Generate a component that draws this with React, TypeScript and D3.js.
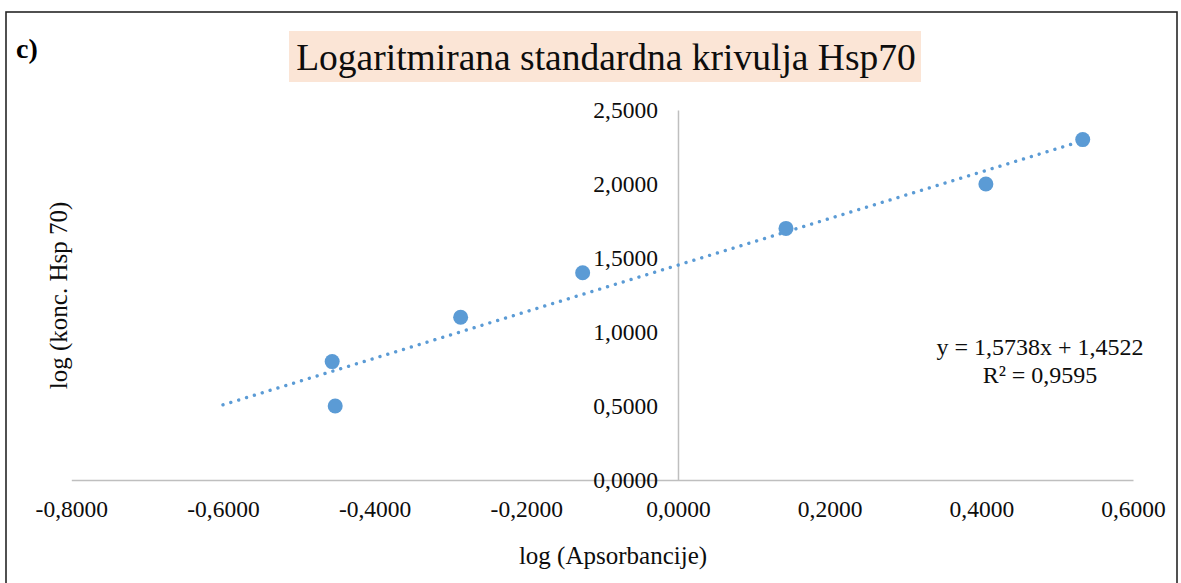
// log standard curve for Hsp70 - scatter with linear trendline

import { useEffect, useRef } from 'react';
import * as d3 from 'd3';

const xValues = [-0.4560, -0.4520, -0.2866, -0.1257, 0.1424, 0.4060, 0.5337];
const yValues = [0.8, 0.5, 1.1, 1.4, 1.7, 2.0, 2.3];
const xTicks = [-0.8, -0.6, -0.4, -0.2, 0, 0.2, 0.4, 0.6];
const yTicks = [0, 0.5, 1.0, 1.5, 2.0, 2.5];
const slope = 1.5738;
const intercept = 1.4522;
const trendFrom = -0.6;

const titleText = 'Logaritmirana standardna krivulja Hsp70';
const xLabel = 'log (Apsorbancije)';
const yLabel = 'log (konc. Hsp 70)';
const eqLines = ['y = 1,5738x + 1,4522', 'R² = 0,9595'];

const App = () => {
  const svgRef = useRef<SVGSVGElement | null>(null);

  useEffect(() => {
    if (!svgRef.current) return;
    const svg = d3.select(svgRef.current);
    svg.selectAll('*').remove();

    const width = 1181;
    const height = 583;
    const font = '"Liberation Serif", "Times New Roman", serif';
    // comma decimals and a plain hyphen for negatives, like the original
    const fmt = d3.formatLocale({ decimal: ',', thousands: '.', grouping: [3], currency: ['', ''], minus: '-' }).format('.4f');

    const x = d3.scaleLinear().domain([-0.8, 0.6]).range([71.3, 1133]);
    const y = d3.scaleLinear().domain([0, 2.5]).range([480, 110]);

    // outer frame
    svg.append('rect')
      .attr('x', 6).attr('y', 12)
      .attr('width', width - 10).attr('height', height + 20)
      .attr('fill', 'white')
      .attr('stroke', '#262626')
      .attr('stroke-width', 1.6);

    svg.append('text')
      .attr('x', 16).attr('y', 58)
      .attr('font-family', font).attr('font-weight', 'bold').attr('font-size', 28)
      .text('c)');

    // title with shaded box
    svg.append('rect')
      .attr('x', 289).attr('y', 31)
      .attr('width', 632).attr('height', 51)
      .attr('fill', '#fbe5d6');
    svg.append('text')
      .attr('x', 606).attr('y', 70)
      .attr('text-anchor', 'middle')
      .attr('font-family', font).attr('font-size', 37.5)
      .attr('fill', '#0d0d0d')
      .text(titleText);

    // x axis
    const xAxis = svg.append('g')
      .attr('transform', `translate(0,${y(0)})`)
      .call(d3.axisBottom(x).tickValues(xTicks).tickSize(0).tickPadding(0).tickFormat(d => fmt(d as number)));
    xAxis.select('.domain').attr('stroke', '#bfbfbf').attr('stroke-width', 1.5);
    xAxis.selectAll('text')
      .attr('dy', 0).attr('y', 37)
      .attr('font-family', font).attr('font-size', 23.5).attr('fill', '#0d0d0d');

    // y axis at x = 0
    const yAxis = svg.append('g')
      .attr('transform', `translate(${x(0)},0)`)
      .call(d3.axisLeft(y).tickValues(yTicks).tickSize(0).tickPadding(0).tickFormat(d => fmt(d as number)));
    yAxis.select('.domain').attr('stroke', '#bfbfbf').attr('stroke-width', 1.5);
    yAxis.selectAll('text')
      .attr('dy', 0).attr('x', -20).attr('y', 7.5)
      .attr('font-family', font).attr('font-size', 23.5).attr('fill', '#0d0d0d');

    // trendline
    const xMax = d3.max(xValues) as number;
    svg.append('line')
      .attr('x1', x(trendFrom)).attr('y1', y(slope * trendFrom + intercept))
      .attr('x2', x(xMax)).attr('y2', y(slope * xMax + intercept))
      .attr('stroke', '#5b9bd5')
      .attr('stroke-width', 3.4)
      .attr('stroke-linecap', 'round')
      .attr('stroke-dasharray', '0.01 8.2');

    // points
    svg.selectAll('circle.pt')
      .data(xValues.map((v, i) => [v, yValues[i]]))
      .join('circle')
      .attr('class', 'pt')
      .attr('cx', d => x(d[0]))
      .attr('cy', d => y(d[1]))
      .attr('r', 7.5)
      .attr('fill', '#5b9bd5');

    // equation
    svg.append('g').selectAll('text')
      .data(eqLines)
      .join('text')
      .attr('x', 1040)
      .attr('y', (d, i) => 355 + i * 28)
      .attr('text-anchor', 'middle')
      .attr('font-family', font).attr('font-size', 24).attr('fill', '#0d0d0d')
      .text(d => d);

    // axis titles
    svg.append('text')
      .attr('x', 613).attr('y', 564)
      .attr('text-anchor', 'middle')
      .attr('font-family', font).attr('font-size', 25).attr('fill', '#0d0d0d')
      .text(xLabel);
    svg.append('text')
      .attr('transform', 'translate(67,295.5) rotate(-90)')
      .attr('text-anchor', 'middle')
      .attr('font-family', font).attr('font-size', 25).attr('fill', '#0d0d0d')
      .text(yLabel);
  }, []);

  return (
    <svg ref={svgRef} width="1181" height="583" style={{ position: 'absolute', left: 0, top: 0 }}></svg>
  );
};

export default App;
